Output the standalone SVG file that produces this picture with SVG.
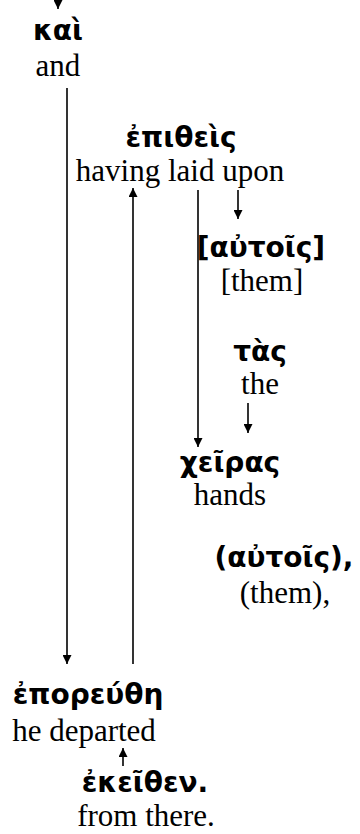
<svg xmlns="http://www.w3.org/2000/svg" width="360" height="834" viewBox="0 0 360 834">
<defs>
<marker id="ah" viewBox="0 0 10 10" refX="10" refY="5" markerWidth="11" markerHeight="9" markerUnits="userSpaceOnUse" orient="auto">
<path d="M0,0 L10,5 L0,10 z" fill="#000"/>
</marker>
<style>
.gk{font-family:"DejaVu Sans","Noto Sans",sans-serif;font-weight:bold;font-size:28px;fill:#000;text-anchor:middle}
.en{font-family:"Liberation Serif","Times New Roman",serif;font-size:31px;fill:#000;text-anchor:middle}
.c{stroke:#000;stroke-width:1.6;fill:none;marker-end:url(#ah)}
</style>
</defs>
<rect width="360" height="834" fill="#fff"/>
<g id="connectors">
<line class="c" x1="58" y1="-5" x2="58" y2="9"/>
<line class="c" x1="67" y1="88" x2="67" y2="664"/>
<line class="c" x1="133" y1="664" x2="133" y2="188"/>
<line class="c" x1="198" y1="190" x2="198" y2="447"/>
<line class="c" x1="238" y1="190" x2="238" y2="219"/>
<line class="c" x1="248" y1="403" x2="248" y2="433"/>
<line class="c" x1="123" y1="766" x2="123" y2="748"/>
</g>
<g id="n-kai"><text class="gk" x="58" y="40">καὶ</text><text class="en" x="58" y="76">and</text></g>
<g id="n-epitheis"><text class="gk" x="181" y="147">ἐπιθεὶς</text><text class="en" x="180" y="181">having laid upon</text></g>
<g id="n-autois1"><text class="gk" x="261" y="257">[αὐτοῖς]</text><text class="en" x="262" y="291">[them]</text></g>
<g id="n-tas"><text class="gk" x="260" y="361">τὰς</text><text class="en" x="260" y="394">the</text></g>
<g id="n-cheiras"><text class="gk" x="230" y="472">χεῖρας</text><text class="en" x="230" y="505">hands</text></g>
<g id="n-autois2"><text class="gk" x="284" y="567">(αὐτοῖς),</text><text class="en" x="285" y="603">(them),</text></g>
<g id="n-eporeuthe"><text class="gk" x="88" y="704">ἐπορεύθη</text><text class="en" x="84" y="741">he departed</text></g>
<g id="n-ekeithen"><text class="gk" x="145" y="792">ἐκεῖθεν.</text><text class="en" x="146" y="826">from there.</text></g>
</svg>
